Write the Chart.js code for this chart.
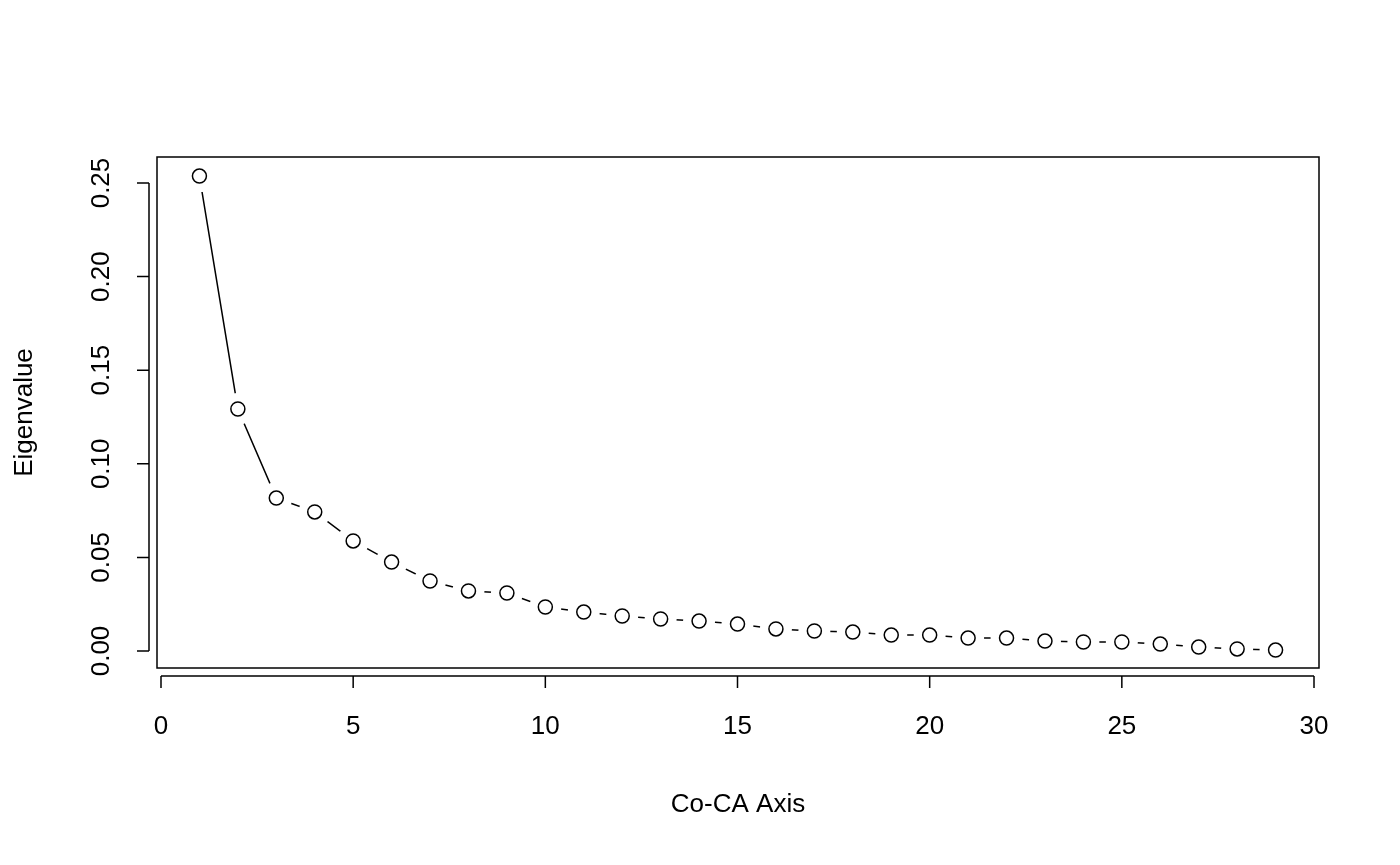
<!DOCTYPE html>
<html>
<head>
<meta charset="utf-8">
<script src="https://cdn.jsdelivr.net/npm/chart.js@4"></script>
<style>
  html, body { margin: 0; padding: 0; background: #fff; }
  #wrap { width: 1400px; height: 865px; }
</style>
</head>
<body>
<div id="wrap"><canvas id="chart"></canvas></div>
<script>
const axisNumbers = [1, 2, 3, 4, 5, 6, 7, 8, 9, 10, 11, 12, 13, 14, 15, 16, 17, 18, 19, 20, 21, 22, 23, 24, 25, 26, 27, 28, 29];
const eigenvalues = [0.2537, 0.1293, 0.0817, 0.0743, 0.0588, 0.0475, 0.0374, 0.0321, 0.0310, 0.0235,
    0.0208, 0.0187, 0.0171, 0.0160, 0.0144, 0.0118, 0.0107, 0.0101, 0.0085, 0.0085,
    0.0069, 0.0069, 0.0053, 0.0048, 0.0048, 0.0037, 0.0021, 0.0011, 0.0005];
const xTicks = [0, 5, 10, 15, 20, 25, 30];
const yTicks = [0.00, 0.05, 0.10, 0.15, 0.20, 0.25];

const points = axisNumbers.map((x, i) => ({ x: x, y: eigenvalues[i] }));
const FONT = '26px "Liberation Sans", Arial, sans-serif';

// base-R style box, detached axes and labels
const rAxes = {
    id: 'rAxes',
    afterDraw(chart) {
        const ctx = chart.ctx;
        const a = chart.chartArea;
        const xs = chart.scales.x;
        const ys = chart.scales.y;
        ctx.save();
        ctx.strokeStyle = '#000';
        ctx.lineWidth = 1.5;
        ctx.strokeRect(a.left, a.top, a.right - a.left, a.bottom - a.top);
        ctx.fillStyle = '#000';
        ctx.font = FONT;

        const xAxisY = a.bottom + 8;
        ctx.beginPath();
        ctx.moveTo(xs.getPixelForValue(xTicks[0]), xAxisY);
        ctx.lineTo(xs.getPixelForValue(xTicks[xTicks.length - 1]), xAxisY);
        ctx.textAlign = 'center';
        ctx.textBaseline = 'middle';
        xTicks.forEach((t) => {
            const px = xs.getPixelForValue(t);
            ctx.moveTo(px, xAxisY);
            ctx.lineTo(px, xAxisY + 12);
            ctx.fillText(String(t), px, 727);
        });
        ctx.stroke();

        const yAxisX = a.left - 8;
        ctx.beginPath();
        ctx.moveTo(yAxisX, ys.getPixelForValue(yTicks[0]));
        ctx.lineTo(yAxisX, ys.getPixelForValue(yTicks[yTicks.length - 1]));
        yTicks.forEach((t) => {
            const py = ys.getPixelForValue(t);
            ctx.moveTo(yAxisX, py);
            ctx.lineTo(yAxisX - 12, py);
            ctx.save();
            ctx.translate(102, py);
            ctx.rotate(-Math.PI / 2);
            ctx.fillText(t.toFixed(2), 0, 0);
            ctx.restore();
        });
        ctx.stroke();

        ctx.fillText('Co-CA Axis', (a.left + a.right) / 2, 805);
        ctx.save();
        ctx.translate(25, (a.top + a.bottom) / 2);
        ctx.rotate(-Math.PI / 2);
        ctx.fillText('Eigenvalue', 0, 0);
        ctx.restore();
        ctx.restore();
    }
};

new Chart(document.getElementById('chart'), {
    type: 'scatter',
    data: {
        datasets: [
            {
                // the connecting line
                data: points,
                showLine: true,
                borderColor: '#000',
                borderWidth: 1.5,
                pointRadius: 0,
                order: 3
            },
            {
                // white gaps around each point, like type = "b"
                data: points,
                showLine: false,
                pointRadius: 16,
                pointBackgroundColor: '#fff',
                pointBorderWidth: 0,
                pointBorderColor: '#fff',
                order: 2
            },
            {
                data: points,
                showLine: false,
                pointRadius: 7,
                pointBackgroundColor: '#fff',
                pointBorderColor: '#000',
                pointBorderWidth: 1.5,
                order: 1
            }
        ]
    },
    options: {
        responsive: true,
        maintainAspectRatio: false,
        animation: false,
        layout: { padding: { left: 157, right: 81, top: 157, bottom: 197 } },
        plugins: { legend: { display: false }, tooltip: { enabled: false } },
        scales: {
            x: { type: 'linear', min: -0.104, max: 30.13, display: false },
            y: { type: 'linear', min: -0.00908, max: 0.2639, display: false }
        }
    },
    plugins: [rAxes]
});
</script>
</body>
</html>
